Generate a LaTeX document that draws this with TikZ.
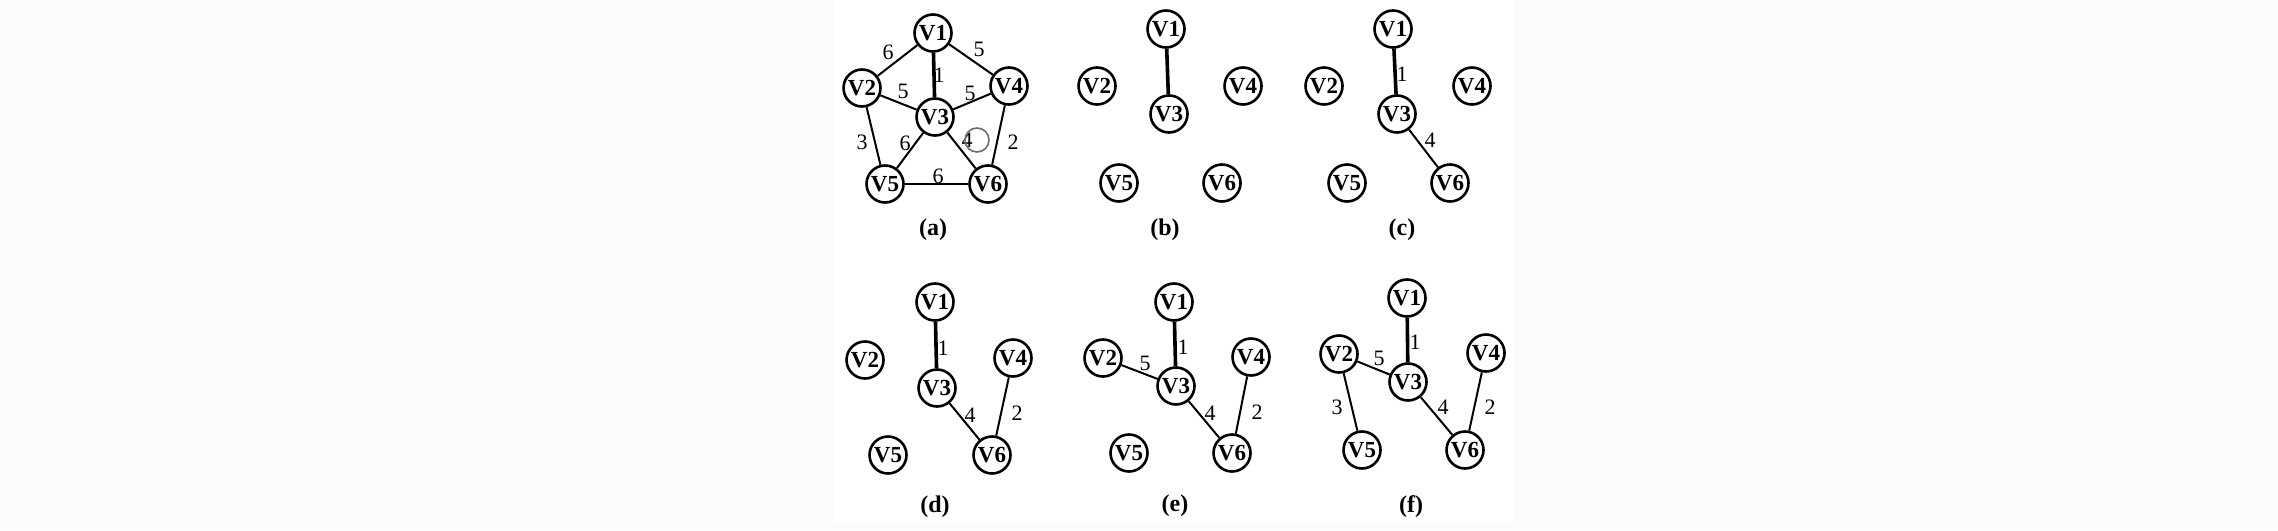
\documentclass[tikz,border=0pt]{standalone}
\usepackage{fontspec}
\setmainfont{Liberation Serif}
\definecolor{outerbg}{RGB}{251,251,251}
\definecolor{cursorgray}{RGB}{110,110,110}
\begin{document}
\begin{tikzpicture}[x=0.5pt,y=-0.5pt,
  vtx/.style={circle,draw,line width=1.3pt,minimum size=18.5pt,inner sep=0pt,
    font=\bfseries\fontsize{11.5}{11.5}\selectfont},
  edg/.style={line width=1pt},
  heavy/.style={line width=1.8pt},
  lbl/.style={inner sep=0pt,font=\fontsize{11}{11}\selectfont},
  panelcap/.style={inner sep=0pt,font=\bfseries\fontsize{12}{12}\selectfont}]
\useasboundingbox (0,0) rectangle (2278,530);
\fill[outerbg] (0,0) rectangle (2278,530);
\fill[white] (834,0) rectangle (1513,523);

% ---------- (a)
\node[vtx] (a1) at (933,33) {V1};
\node[vtx] (a2) at (862,88) {V2};
\node[vtx] (a3) at (935,117) {V3};
\node[vtx] (a4) at (1009,86) {V4};
\node[vtx] (a5) at (885,184) {V5};
\node[vtx] (a6) at (988,184) {V6};
\draw[edg] (a1) -- (a2);
\draw[heavy] (a1) -- (a3);
\draw[edg] (a1) -- (a4);
\draw[edg] (a2) -- (a3);
\draw[edg] (a3) -- (a4);
\draw[edg] (a2) -- (a5);
\draw[edg] (a3) -- (a5);
\draw[edg] (a3) -- (a6);
\draw[edg] (a4) -- (a6);
\draw[edg] (a5) -- (a6);
\node[lbl] (la12) at (888,52) {6};
\node[lbl] (la14) at (979,49) {5};
\node[lbl] (la13) at (939,75) {1};
\node[lbl] (la23) at (903,91) {5};
\node[lbl] (la34) at (970,93) {5};
\node[lbl] (la25) at (862,142) {3};
\node[lbl] (la35) at (905,143) {6};
\node[lbl] (la36) at (967,140) {4};
\node[lbl] (la46) at (1013,142) {2};
\node[lbl] (la56) at (938,176) {6};
\draw[cursorgray,line width=0.8pt] (977,140) circle[radius=12];
\node[panelcap] (capa) at (933,230) {(a)};

% ---------- (b)
\node[vtx] (b1) at (1166,29) {V1};
\node[vtx] (b2) at (1097,86) {V2};
\node[vtx] (b3) at (1169,114) {V3};
\node[vtx] (b4) at (1243,86) {V4};
\node[vtx] (b5) at (1119,183) {V5};
\node[vtx] (b6) at (1222,183) {V6};
\draw[heavy] (b1) -- (b3);
\node[panelcap] (capb) at (1165,230) {(b)};

% ---------- (c)
\node[vtx] (c1) at (1393,29) {V1};
\node[vtx] (c2) at (1324,86) {V2};
\node[vtx] (c3) at (1397,114) {V3};
\node[vtx] (c4) at (1472,86) {V4};
\node[vtx] (c5) at (1347,183) {V5};
\node[vtx] (c6) at (1450,183) {V6};
\draw[heavy] (c1) -- (c3);
\draw[edg] (c3) -- (c6);
\node[lbl] (lc13) at (1402,74) {1};
\node[lbl] (lc36) at (1430,140) {4};
\node[panelcap] (capc) at (1402,230) {(c)};

% ---------- (d)
\node[vtx] (d1) at (935,302) {V1};
\node[vtx] (d2) at (865,360) {V2};
\node[vtx] (d3) at (937,388) {V3};
\node[vtx] (d4) at (1013,358) {V4};
\node[vtx] (d5) at (888,455) {V5};
\node[vtx] (d6) at (992,455) {V6};
\draw[heavy] (d1) -- (d3);
\draw[edg] (d3) -- (d6);
\draw[edg] (d4) -- (d6);
\node[lbl] (ld13) at (943,348) {1};
\node[lbl] (ld36) at (970,415) {4};
\node[lbl] (ld46) at (1017,413) {2};
\node[panelcap] (capd) at (935,507) {(d)};

% ---------- (e)
\node[vtx] (e1) at (1174,302) {V1};
\node[vtx] (e2) at (1103,358) {V2};
\node[vtx] (e3) at (1176,386) {V3};
\node[vtx] (e4) at (1251,357) {V4};
\node[vtx] (e5) at (1129,453) {V5};
\node[vtx] (e6) at (1232,453) {V6};
\draw[heavy] (e1) -- (e3);
\draw[edg] (e2) -- (e3);
\draw[edg] (e3) -- (e6);
\draw[edg] (e4) -- (e6);
\node[lbl] (le13) at (1183,347) {1};
\node[lbl] (le23) at (1145,363) {5};
\node[lbl] (le36) at (1210,413) {4};
\node[lbl] (le46) at (1257,412) {2};
\node[panelcap] (cape) at (1175,506) {(e)};

% ---------- (f)
\node[vtx] (f1) at (1407,298) {V1};
\node[vtx] (f2) at (1339,354) {V2};
\node[vtx] (f3) at (1408,382) {V3};
\node[vtx] (f4) at (1486,353) {V4};
\node[vtx] (f5) at (1362,450) {V5};
\node[vtx] (f6) at (1465,450) {V6};
\draw[heavy] (f1) -- (f3);
\draw[edg] (f2) -- (f3);
\draw[edg] (f2) -- (f5);
\draw[edg] (f3) -- (f6);
\draw[edg] (f4) -- (f6);
\node[lbl] (lf13) at (1415,342) {1};
\node[lbl] (lf23) at (1379,358) {5};
\node[lbl] (lf25) at (1337,407) {3};
\node[lbl] (lf36) at (1443,407) {4};
\node[lbl] (lf46) at (1490,407) {2};
\node[panelcap] (capf) at (1411,507) {(f)};
\end{tikzpicture}
\end{document}
